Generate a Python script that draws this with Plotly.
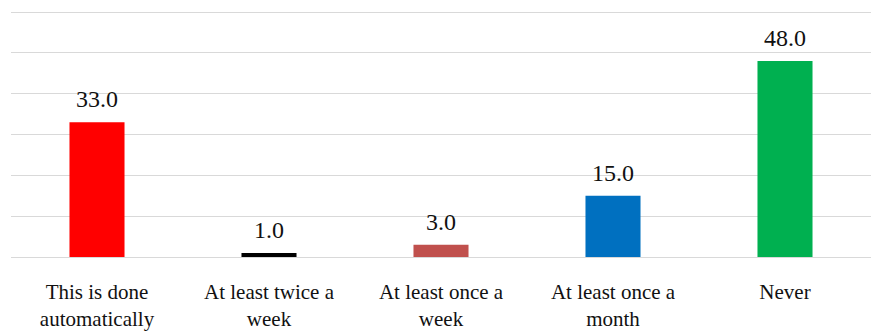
import plotly.graph_objects as go

categories = [
    "This is done<br>automatically",
    "At least twice a<br>week",
    "At least once a<br>week",
    "At least once a<br>month",
    "Never",
]
values = [33.0, 1.0, 3.0, 15.0, 48.0]
colors = ["#FF0000", "#000000", "#C0504D", "#0070C0", "#00B050"]

FONT = "Liberation Serif"

fig = go.Figure(
    go.Bar(
        x=categories,
        y=values,
        marker=dict(color=colors, line=dict(width=0)),
        hoverinfo="skip",
    )
)

for cat, val in zip(categories, values):
    fig.add_annotation(
        x=cat,
        y=val,
        text=f"{val:.1f}",
        showarrow=False,
        yanchor="bottom",
        yshift=8,
        font=dict(family=FONT, size=24, color="#111111"),
    )

fig.update_layout(
    width=871,
    height=331,
    margin=dict(l=11, r=0, t=10, b=74),
    paper_bgcolor="white",
    plot_bgcolor="white",
    bargap=0.68,
    showlegend=False,
    font=dict(family=FONT, size=21, color="#111111"),
    xaxis=dict(
        showgrid=False,
        showline=False,
        ticks="",
        ticklabelstandoff=20,
        tickfont=dict(family=FONT, size=21, color="#111111"),
    ),
    yaxis=dict(
        range=[0, 60.5],
        tickvals=[0, 10, 20, 30, 40, 50, 60],
        showticklabels=False,
        showgrid=True,
        gridcolor="#D9D9D9",
        gridwidth=1.3,
        zeroline=True,
        zerolinecolor="#D9D9D9",
        zerolinewidth=1.3,
        showline=False,
        ticks="",
    ),
)

fig.write_html("out.html")
